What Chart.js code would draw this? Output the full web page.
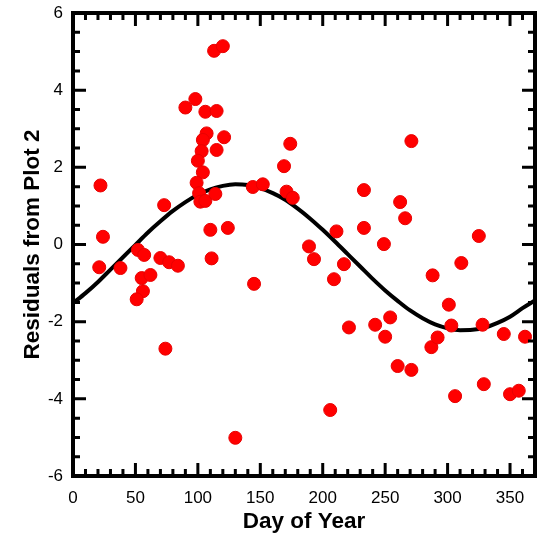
<!DOCTYPE html>
<html>
<head>
<meta charset="utf-8">
<script src="https://cdn.jsdelivr.net/npm/chart.js@4.4.1/dist/chart.umd.min.js"></script>
<style>
html, body { margin: 0; padding: 0; background: #fff; }
</style>
</head>
<body>
<canvas id="grafico" width="543" height="538"></canvas>
<script>
// puntos medidos (dia del año, residuo)
const dias = [22, 24, 21, 38, 52, 57, 55, 62, 56, 51, 70, 77, 84, 73, 74,
    90, 98, 106, 115, 113, 120, 107, 104, 103, 121, 115, 100, 104, 99, 101,
    102, 106, 114, 110, 111, 124, 130, 144, 145, 152, 169, 174, 171, 176,
    189, 193, 206, 209, 211, 217, 221, 233, 233, 242, 249, 250, 254, 260,
    262, 266, 271, 271, 287, 288, 292, 301, 303, 306, 311, 325, 328, 329,
    345, 350, 357, 362];
const residuos = [1.53, 0.20, -0.59, -0.61, -0.14, -0.27, -0.87, -0.79, -1.21, -1.42, -0.35, -0.46, -0.55, 1.02, -2.70,
    3.55, 3.77, 3.44, 3.46, 5.02, 5.14, 2.88, 2.71, 2.42, 2.78, 2.45, 2.17, 1.87, 1.60, 1.33,
    1.11, 1.13, 1.31, 0.38, -0.36, 0.43, -5.01, 1.49, -1.02, 1.56, 2.03, 2.61, 1.37, 1.21,
    -0.05, -0.38, -4.29, -0.90, 0.34, -0.51, -2.15, 0.43, 1.41, -2.08, 0.01, -2.39, -1.89, -3.15,
    1.10, 0.68, 2.68, -3.25, -2.66, -0.80, -2.41, -1.56, -2.10, -3.93, -0.48, 0.22, -2.08, -3.62,
    -2.32, -3.88, -3.79, -2.39];

// curva ajustada
const curvaDias = [0, 10, 20, 30, 40, 50, 60, 70, 80, 90, 100, 110, 120, 130, 140, 150, 160, 170, 180,
    190, 200, 210, 220, 230, 240, 250, 260, 270, 280, 290, 300, 310, 320, 330, 340, 350, 360, 370];
const curvaValores = [-1.52, -1.26, -0.97, -0.65, -0.33, -0.01, 0.31, 0.60, 0.87, 1.10, 1.29, 1.43, 1.52, 1.56,
    1.54, 1.46, 1.33, 1.16, 0.93, 0.67, 0.38, 0.07, -0.25, -0.57, -0.89, -1.19, -1.46, -1.71, -1.91,
    -2.07, -2.17, -2.22, -2.21, -2.15, -2.03, -1.87, -1.65, -1.45];

const ticksX = [0, 50, 100, 150, 200, 250, 300, 350];
const ticksY = [-6, -4, -2, 0, 2, 4, 6];
const pasoMenorX = 10;
const pasoMenorY = 0.5;

const marcoEjes = {
    id: 'marcoEjes',
    afterDraw(chart) {
        const { ctx, chartArea: a, scales: { x, y } } = chart;
        ctx.save();
        ctx.strokeStyle = '#000';
        ctx.lineCap = 'butt';
        ctx.lineWidth = 3;
        ctx.beginPath();
        for (let v = x.min; v <= x.max + 0.001; v += pasoMenorX) {
            const px = x.getPixelForValue(v);
            const largo = ticksX.includes(v) ? 13 : 7;
            ctx.moveTo(px, a.bottom); ctx.lineTo(px, a.bottom - largo);
            ctx.moveTo(px, a.top); ctx.lineTo(px, a.top + largo);
        }
        for (let v = y.min; v <= y.max + 0.001; v += pasoMenorY) {
            const py = y.getPixelForValue(v);
            const largo = ticksY.includes(v) ? 13 : 7;
            ctx.moveTo(a.left, py); ctx.lineTo(a.left + largo, py);
            ctx.moveTo(a.right, py); ctx.lineTo(a.right - largo, py);
        }
        ctx.stroke();
        ctx.lineWidth = 4;
        ctx.strokeRect(a.left, a.top, a.right - a.left, a.bottom - a.top);
        ctx.restore();
    }
};

const ctx = document.getElementById('grafico').getContext('2d');
new Chart(ctx, {
    type: 'scatter',
    data: {
        datasets: [{
            label: 'Residuos',
            data: dias.map((d, i) => ({ x: d, y: residuos[i] })),
            backgroundColor: '#ff0000',
            borderColor: '#e80000',
            borderWidth: 1,
            pointRadius: 6.5,
            order: 0
        }, {
            label: 'Ajuste',
            data: curvaDias.map((d, i) => ({ x: d, y: curvaValores[i] })),
            showLine: true,
            borderColor: '#000',
            borderWidth: 4,
            pointRadius: 0,
            cubicInterpolationMode: 'monotone',
            order: 1
        }]
    },
    options: {
        responsive: false,
        animation: false,
        layout: { padding: { top: 13, right: 8, left: 0, bottom: 0 } },
        plugins: { legend: { display: false }, tooltip: { enabled: false } },
        scales: {
            x: {
                type: 'linear',
                min: 0,
                max: 370,
                afterBuildTicks: (s) => { s.ticks = ticksX.map(v => ({ value: v })); },
                afterFit: (s) => { s.height = 62; s.paddingLeft = 0; s.paddingRight = 0; },
                grid: { display: false, drawTicks: false },
                border: { display: false },
                ticks: { color: '#000', padding: 12, font: { family: 'Liberation Sans, Arial', size: 17 } },
                title: {
                    display: true,
                    text: 'Day of Year',
                    color: '#000',
                    padding: { top: 0, bottom: 3 },
                    font: { family: 'Liberation Sans, Arial', size: 22.5, weight: 'bold' }
                }
            },
            y: {
                min: -6,
                max: 6,
                afterBuildTicks: (s) => { s.ticks = ticksY.map(v => ({ value: v })); },
                afterFit: (s) => { s.width = 73; s.paddingTop = 0; s.paddingBottom = 0; },
                grid: { display: false, drawTicks: false },
                border: { display: false },
                ticks: { color: '#000', padding: 10, font: { family: 'Liberation Sans, Arial', size: 17 } },
                title: {
                    display: true,
                    text: 'Residuals from Plot 2',
                    color: '#000',
                    padding: { top: 19, bottom: 0 },
                    font: { family: 'Liberation Sans, Arial', size: 22.5, weight: 'bold' }
                }
            }
        }
    },
    plugins: [marcoEjes]
});
</script>
</body>
</html>
